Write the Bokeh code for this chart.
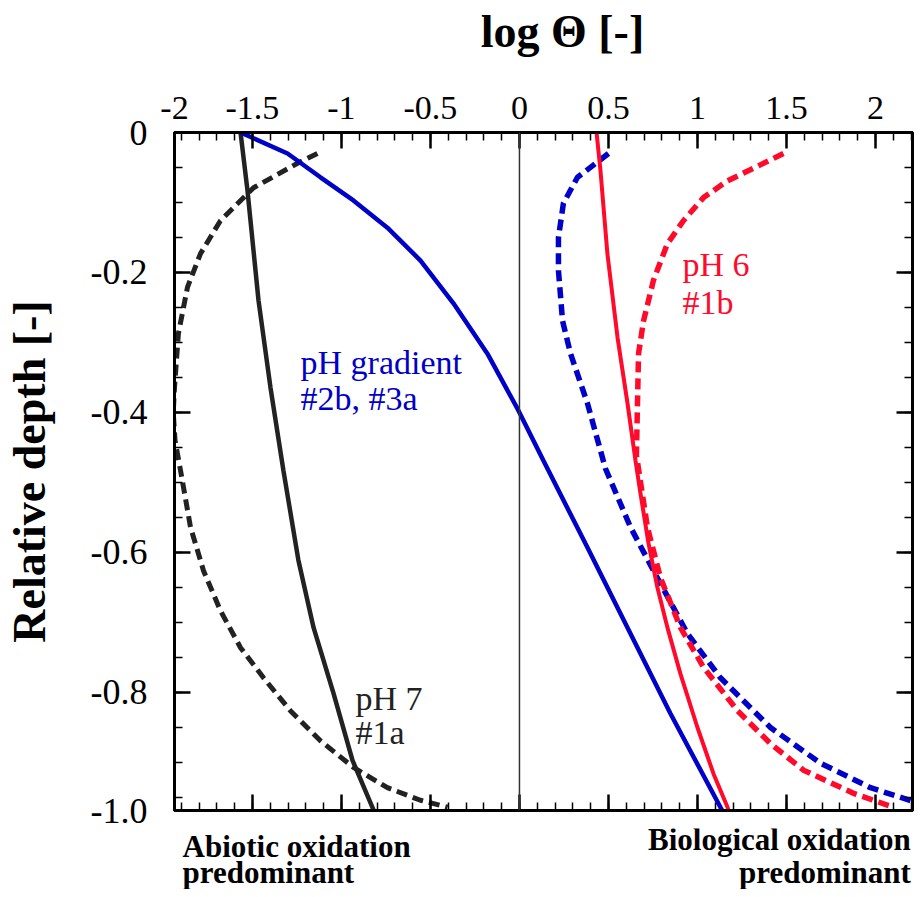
from bokeh.plotting import figure
from bokeh.layouts import column
from bokeh.models import (LinearAxis, FixedTicker, Range1d, Span, Label, CustomLabelingPolicy)
from bokeh.embed import file_html
from bokeh.resources import INLINE

# ---------------- data (log Theta vs relative depth) ----------------
ph7_solid_x = [-1.567, -1.528, -1.466, -1.399, -1.326, -1.242, -1.157, -1.045, -0.938, -0.826, -0.818]
ph7_solid_y = [0.0, -0.083, -0.240, -0.364, -0.483, -0.611, -0.707, -0.801, -0.897, -0.964, -0.969]

ph7_dash_x = [-1.135, -1.247, -1.494, -1.680, -1.792, -1.865, -1.916, -1.938, -1.945, -1.935,
              -1.904, -1.848, -1.775, -1.680, -1.567, -1.438, -1.287, -1.118, -0.933, -0.742, -0.556, -0.404]
ph7_dash_y = [-0.030, -0.044, -0.079, -0.126, -0.173, -0.221, -0.287, -0.364, -0.400, -0.440,
              -0.483, -0.564, -0.626, -0.683, -0.736, -0.779, -0.826, -0.869, -0.907, -0.936, -0.954, -0.964]

grad_solid_x = [-1.567, -1.303, -1.118, -0.933, -0.742, -0.556, -0.371, -0.180, -0.006, 0.135,
                0.382, 0.624, 0.848, 1.129, 1.140]
grad_solid_y = [0.0, -0.030, -0.064, -0.097, -0.136, -0.183, -0.244, -0.316, -0.397, -0.469,
                -0.593, -0.716, -0.830, -0.964, -0.969]

grad_dash_x = [0.500, 0.326, 0.247, 0.219, 0.219, 0.242, 0.287, 0.382, 0.483, 0.624, 0.753, 0.944,
               1.129, 1.410, 1.691, 1.972, 2.253]
grad_dash_y = [-0.030, -0.064, -0.101, -0.150, -0.197, -0.269, -0.316, -0.387, -0.480, -0.564, -0.626, -0.716,
               -0.779, -0.850, -0.901, -0.936, -0.959]

ph6_solid_x = [0.433, 0.455, 0.494, 0.551, 0.607, 0.652, 0.680, 0.725, 0.775, 0.831, 0.904, 1.000, 1.090, 1.169, 1.175]
ph6_solid_y = [0.0, -0.054, -0.173, -0.293, -0.387, -0.469, -0.516, -0.587, -0.650, -0.707, -0.773, -0.850, -0.916, -0.964, -0.969]

ph6_dash_x = [1.483, 1.315, 1.169, 1.034, 0.921, 0.831, 0.753, 0.697, 0.669, 0.663, 0.657, 0.719, 0.792,
              0.904, 1.034, 1.225, 1.410, 1.596, 1.876, 2.101]
ph6_dash_y = [-0.030, -0.051, -0.069, -0.093, -0.126, -0.159, -0.211, -0.269, -0.316, -0.387, -0.461, -0.564,
              -0.636, -0.707, -0.764, -0.826, -0.873, -0.911, -0.944, -0.964]

# the "-2" label sits at the left edge of the box (box starts just right of -2)
x_start = -1.938
x_tick_values = [x_start, -1.5, -1, -0.5, 0, 0.5, 1, 1.5, 2]
x_tick_labels = ["-2", "-1.5", "-1", "-0.5", "0", "0.5", "1", "1.5", "2"]
x_minor_ticks = [round(-1.9 + 0.1 * i, 2) for i in range(42)]
# the "-1.0" label sits at the bottom edge of the box
y_bottom = -0.9686
y_tick_values = [0, -0.2, -0.4, -0.6, -0.8, y_bottom]
y_tick_labels = ["0", "-0.2", "-0.4", "-0.6", "-0.8", "-1.0"]
y_minor_ticks = [round(-0.05 * i, 2) for i in range(20)]

BLUE = "#0000c8"
RED = "#ff0a2a"
BLACK = "#222222"
SERIF = "Liberation Serif"

# ---------------- geometry ----------------
LEFT, RIGHT = 174, 2
FRAME_W, FRAME_H = 738, 678
TOP_H = 70
TOPB, BOTB = 62, 18
BOT_H = 61
PX_PER_UNIT = 178.0
x_end = x_start + FRAME_W / PX_PER_UNIT

no_labels = CustomLabelingPolicy(code="""
for (const i of indices) { indices.unset(i) }
return indices
""")

def add_label(fig, x, y, text, color="black", size="34px", style="normal", align="left",
              baseline="middle", angle=0.0):
    fig.add_layout(Label(x=x, y=y, text=text, text_color=color, text_font=SERIF,
                         text_font_size=size, text_font_style=style, text_align=align,
                         text_baseline=baseline, angle=angle))

def strip(height, x_range):
    s = figure(frame_width=FRAME_W, frame_height=height,
               x_range=x_range, y_range=Range1d(0, height),
               output_backend="svg", toolbar_location=None,
               x_axis_location=None, y_axis_location=None,
               min_border_left=LEFT, min_border_right=RIGHT, min_border_top=0, min_border_bottom=0)
    s.xgrid.visible = False
    s.ygrid.visible = False
    s.outline_line_color = None
    s.background_fill_color = "white"
    s.border_fill_color = "white"
    return s

# ---------------- main plot ----------------
p = figure(frame_width=FRAME_W, frame_height=FRAME_H,
           x_range=Range1d(x_start, x_end), y_range=Range1d(y_bottom, 0),
           x_axis_location="above", output_backend="svg", toolbar_location=None,
           min_border_left=LEFT, min_border_top=TOPB, min_border_right=RIGHT, min_border_bottom=BOTB)
p.xgrid.visible = False
p.ygrid.visible = False
p.outline_line_color = "black"
p.outline_line_width = 3
p.background_fill_color = "white"
p.border_fill_color = "white"

xt = FixedTicker(ticks=[v for v in x_tick_values if x_start <= v <= x_end], minor_ticks=x_minor_ticks)
yt = FixedTicker(ticks=y_tick_values, minor_ticks=y_minor_ticks)

def style_axis(ax, ticker, show_labels):
    ax.ticker = ticker
    ax.axis_line_width = 3
    ax.axis_line_color = "black"
    ax.major_tick_in = 16
    ax.major_tick_out = 0
    ax.minor_tick_in = 8
    ax.minor_tick_out = 0
    ax.major_tick_line_width = 2.5
    ax.minor_tick_line_width = 1.5
    ax.major_tick_line_color = "black"
    ax.minor_tick_line_color = "black"
    if not show_labels:
        ax.major_label_policy = no_labels
        ax.major_label_text_font_size = "0px"
        ax.major_label_standoff = 0

xax = p.xaxis[0]
style_axis(xax, xt, True)
xax.major_label_overrides = {v: l for v, l in zip(x_tick_values, x_tick_labels)}
xax.major_label_text_font = SERIF
xax.major_label_text_font_size = "34px"
xax.major_label_text_color = "black"
xax.major_label_standoff = 14

yax = p.yaxis[0]
style_axis(yax, yt, True)
yax.major_label_overrides = {v: l for v, l in zip(y_tick_values, y_tick_labels)}
yax.major_label_text_font = SERIF
yax.major_label_text_font_size = "36px"
yax.major_label_text_color = "black"
yax.major_label_standoff = 27
yax.axis_label = "Relative depth [-]"
yax.axis_label_text_font = SERIF
yax.axis_label_text_font_size = "46px"
yax.axis_label_text_font_style = "bold"
yax.axis_label_text_color = "black"
yax.axis_label_standoff = 33

bottom_ax = LinearAxis()
style_axis(bottom_ax, xt, False)
p.add_layout(bottom_ax, "below")
right_ax = LinearAxis()
style_axis(right_ax, yt, False)
p.add_layout(right_ax, "right")

p.add_layout(Span(location=0, dimension="height", line_color="#333333", line_width=1.5))

p.line(ph7_dash_x, ph7_dash_y, line_color=BLACK, line_width=5, line_dash="11 6")
p.line(ph7_solid_x, ph7_solid_y, line_color=BLACK, line_width=4.5)
p.line(grad_dash_x, grad_dash_y, line_color=BLUE, line_width=5.5, line_dash="11 6")
p.line(grad_solid_x, grad_solid_y, line_color=BLUE, line_width=4.5)
p.line(ph6_dash_x, ph6_dash_y, line_color=RED, line_width=5.5, line_dash="11 6")
p.line(ph6_solid_x, ph6_solid_y, line_color=RED, line_width=4)

add_label(p, -1.230, -0.3286, "pH gradient", BLUE)
add_label(p, -1.230, -0.3800, "#2b, #3a", BLUE)
add_label(p, 0.916, -0.1886, "pH 6", RED)
add_label(p, 0.916, -0.2429, "#1b", RED)
add_label(p, -0.921, -0.8086, "pH 7", BLACK)
add_label(p, -0.921, -0.8571, "#1a", BLACK)

# ---------------- top strip: axis title ----------------
p_top = strip(TOP_H, p.x_range)
add_label(p_top, 0.2416, 39, "log Θ [-]", "black", "46px", "bold", "center")

# ---------------- bottom strip: region captions ----------------
p_bot = strip(BOT_H, p.x_range)
add_label(p_bot, -1.893, 43, "Abiotic oxidation", "black", "31px", "bold")
add_label(p_bot, -1.893, 17, "predominant", "black", "31px", "bold")
add_label(p_bot, x_end - 0.01, 50, "Biological oxidation", "black", "31px", "bold", "right")
add_label(p_bot, x_end - 0.01, 17, "predominant", "black", "31px", "bold", "right")

layout = column(p_top, p, p_bot, spacing=0)
open("out.html", "w").write(file_html(layout, INLINE))
